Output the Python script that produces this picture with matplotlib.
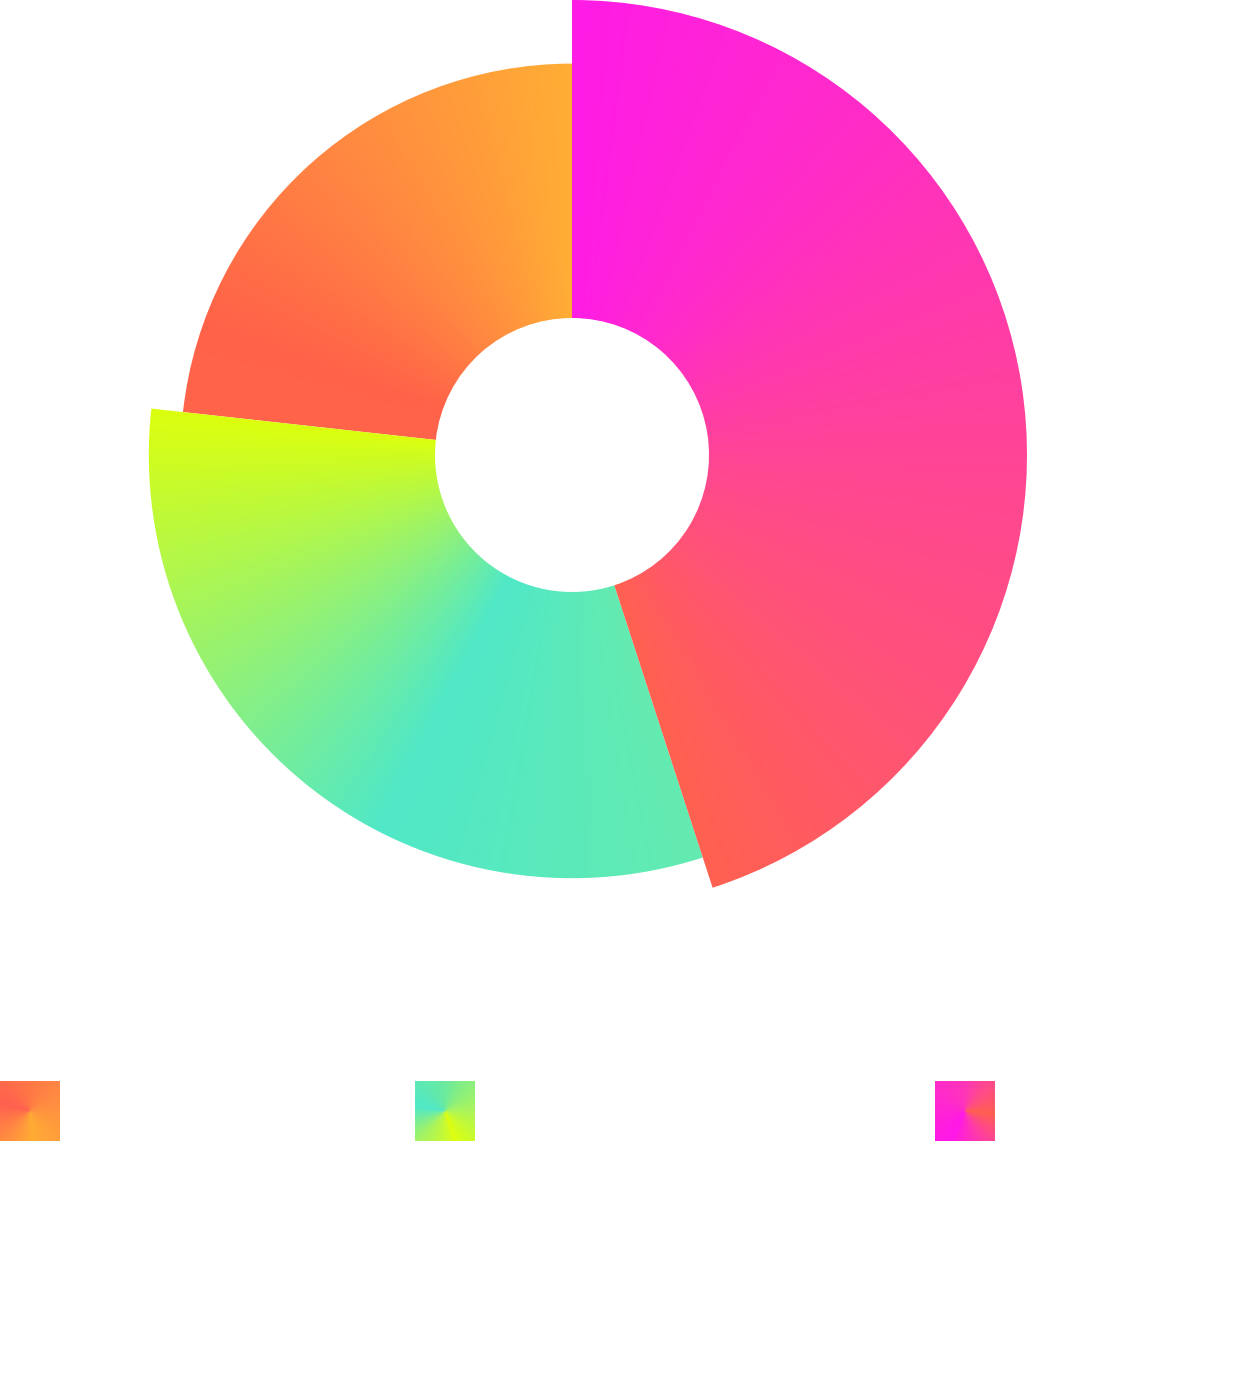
import numpy as np
import matplotlib
matplotlib.use("Agg")
import matplotlib.pyplot as plt
from matplotlib.patches import Wedge
from matplotlib.colors import to_rgb

# data (order as in the legend: orange, green, pink)
categories = ["Series 1", "Series 2", "Series 3"]
shares = [23.25, 31.75, 45.0]          # angular share, percent
magnitude = [0.80, 0.90, 1.00]         # relative outer radius

# colour stops along each slice, degrees clockwise from 12 o'clock
slice_stops = [
    [(276.3, "#FF654C"), (290, "#FF6249"), (320, "#FF8542"), (360, "#FFAE35")],
    [(162.0, "#64EBB0"), (207, "#50E8C8"), (240, "#96F272"), (276.3, "#DCFF0E")],
    [(0.0, "#FF1CE6"), (40, "#FF2CC8"), (90, "#FF4596"), (130, "#FF5475"), (162, "#FF6150")],
]
# legend icons: conic gradient, first stop is the seam
icon_stops = [
    [(170, "#FFAE32"), (220, "#FF8E40"), (285, "#FF6050"), (360, "#FF7845"), (450, "#FF9340"), (529.9, "#FFAA35")],
    [(165, "#D5FC20"), (220, "#A8F460"), (280, "#50E8C8"), (360, "#6CEA9E"), (450, "#ACF55C"), (524.9, "#DFFF0C")],
    [(205, "#FF18E8"), (270, "#FF24D6"), (360, "#FF36B8"), (405, "#FF4C88"), (455, "#FF6050"), (510, "#FF3CA8"), (564.9, "#FF18E8")],
]

W, H = 1238, 1387
cx, cy = 572, 455
R_outer, R_inner = 455, 137


def conic(stops, ang):
    a = np.array([s[0] for s in stops])
    cols = np.array([to_rgb(s[1]) for s in stops])
    img = np.zeros(ang.shape + (3,))
    for k in range(3):
        img[..., k] = np.interp(ang, a, cols[:, k])
    return img


fig = plt.figure(figsize=(W / 100, H / 100), dpi=100)
ax = fig.add_axes([0, 0, 1, 1])
ax.set_xlim(-cx, W - cx)
ax.set_ylim(-(H - cy), cy)
ax.set_aspect("equal")
ax.axis("off")

n = 1100
xs = np.linspace(-R_outer, R_outer, n)
X, Y = np.meshgrid(xs, xs[::-1])
ang = np.degrees(np.arctan2(X, Y)) % 360

# slices go counter-clockwise from the top, like pie(counterclock=True)
start = 360.0
for i, (share, mag) in enumerate(zip(shares, magnitude)):
    span = share / 100 * 360
    a0, a1 = start - span, start
    r = R_inner + mag * (R_outer - R_inner)
    a = ang.copy()
    if a1 >= 360:
        a[a < 1] += 360
    img = conic(slice_stops[i], a)
    w = Wedge((0, 0), r, 90 - a1, 90 - a0, width=r - R_inner,
              facecolor="none", edgecolor="none")
    ax.add_patch(w)
    im = ax.imshow(img, extent=(-R_outer, R_outer, -R_outer, R_outer),
                   interpolation="bilinear", zorder=2)
    im.set_clip_path(w)
    start = a0

# legend icons
icon_x = [0, 415, 935]
icon_top = 1081
size = 60
m = 120
u = np.linspace(-1, 1, m)
IX, IY = np.meshgrid(u, u[::-1])
iang = np.degrees(np.arctan2(IX, IY)) % 360
for i, x0 in enumerate(icon_x):
    lax = fig.add_axes([x0 / W, (H - icon_top - size) / H, size / W, size / H])
    seam = icon_stops[i][0][0]
    a = iang.copy()
    a[a < seam] += 360
    lax.imshow(conic(icon_stops[i], a), extent=(0, 1, 0, 1),
               interpolation="bilinear", aspect="auto")
    lax.set_xlim(0, 1)
    lax.set_ylim(0, 1)
    lax.axis("off")

fig.savefig("out.png", dpi=100, facecolor="white")
